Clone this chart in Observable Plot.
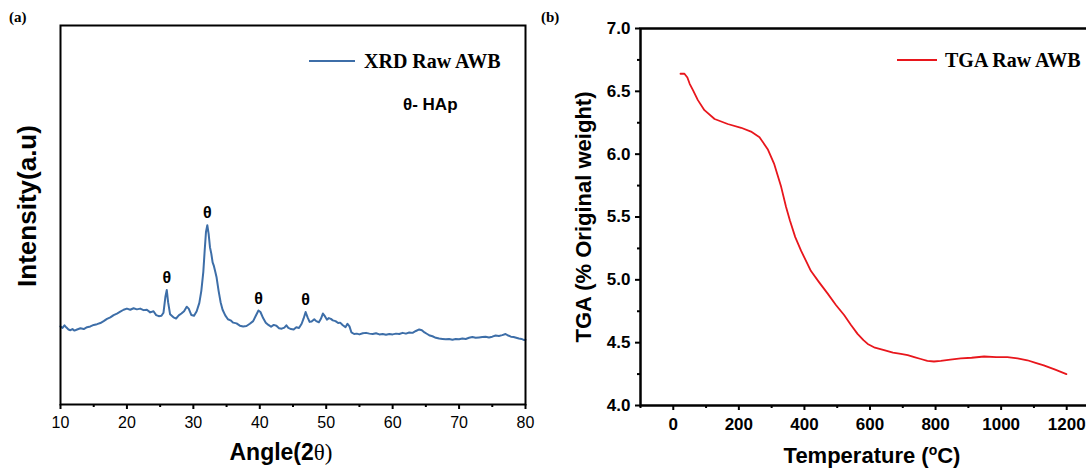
<!DOCTYPE html>
<html><head><meta charset="utf-8">
<script src="https://cdn.jsdelivr.net/npm/d3@7"></script>
<script src="https://cdn.jsdelivr.net/npm/@observablehq/plot@0.6"></script>
<style>
html,body{margin:0;padding:0;background:#fff;}
#wrap{position:relative;width:1086px;height:469px;overflow:hidden;background:#fff;}
.abs{position:absolute;white-space:nowrap;}
.pa{position:absolute;top:0;}
</style></head><body><div id="wrap"></div>
<script>
// ---- Panel (a): XRD data ----
const xrdAngle = [10.0,10.3,10.6,10.9,11.2,11.5,11.8,12.1,12.5,13.0,13.5,14.0,14.5,15.0,15.5,16.0,16.5,17.0,17.5,18.0,18.5,19.0,19.5,20.0,20.5,21.0,21.5,22.0,22.5,23.0,23.5,24.0,24.4,24.8,25.2,25.5,25.8,26.0,26.2,26.5,27.0,27.4,27.8,28.2,28.6,29.0,29.3,29.7,30.1,30.5,30.9,31.2,31.5,31.7,31.9,32.1,32.3,32.5,32.7,32.9,33.1,33.3,33.5,33.8,34.1,34.4,34.8,35.2,35.6,36.0,36.5,37.0,37.5,38.0,38.5,39.0,39.4,39.8,40.1,40.5,40.9,41.3,41.7,42.1,42.5,42.9,43.3,43.7,44.0,44.3,44.7,45.1,45.5,45.9,46.3,46.6,46.9,47.2,47.5,47.8,48.2,48.5,48.9,49.2,49.5,49.8,50.1,50.4,50.7,51.0,51.4,51.8,52.1,52.5,52.9,53.2,53.5,53.8,54.2,54.6,55.0,55.5,56.0,56.5,57.0,57.5,58.0,58.5,59.0,59.5,60.0,60.5,61.0,61.5,62.0,62.5,63.0,63.5,64.0,64.4,64.8,65.2,65.6,66.0,66.5,67.0,67.5,68.0,68.5,69.0,69.5,70.0,70.5,71.0,71.5,72.0,72.5,73.0,73.5,74.0,74.5,75.0,75.5,76.0,76.5,77.0,77.4,77.8,78.2,78.6,79.0,79.4,79.8,80.0];
const xrdIntensity = [20.6,20.2,20.9,20.3,19.8,19.6,19.9,19.5,19.8,20.1,19.9,20.4,20.6,21.0,21.2,21.5,22.0,22.6,23.0,23.6,24.0,24.5,25.0,25.3,25.0,25.4,25.1,25.3,24.9,25.0,24.3,24.6,23.6,23.3,23.4,24.2,28.5,30.2,27.0,23.8,23.0,22.7,23.5,24.0,24.6,25.8,25.3,23.6,23.4,24.6,26.8,30.0,35.0,40.5,45.5,47.3,45.0,41.5,39.8,37.5,36.5,35.0,33.5,30.0,27.0,25.0,23.5,22.5,22.2,21.6,21.4,20.8,20.6,20.7,21.3,22.0,23.4,24.8,24.4,22.8,21.6,21.0,20.5,21.0,20.8,20.1,20.0,20.3,20.9,20.2,19.9,19.8,20.4,20.2,21.3,22.7,24.4,23.0,21.8,21.9,22.5,22.0,21.7,22.6,24.0,23.3,22.4,22.8,22.6,22.2,22.0,21.5,21.6,20.9,20.4,21.3,20.6,19.0,18.6,18.7,18.5,18.8,18.9,18.7,18.6,18.8,18.5,18.6,18.4,18.6,18.5,18.7,18.6,18.9,18.7,19.0,18.9,19.4,19.8,19.6,19.0,18.6,18.2,18.0,17.6,17.4,17.3,17.2,17.3,17.1,17.3,17.2,17.4,17.3,17.6,17.8,17.6,17.7,17.8,17.9,17.7,17.9,18.2,18.1,18.3,18.6,18.2,17.9,17.8,17.6,17.4,17.3,17.0,17.1];
const peakAngle = [26.0, 32.1, 39.8, 46.9];
const peakIntensity = [30.2, 47.3, 24.8, 24.4];
const xrdMajorTicks = [10,20,30,40,50,60,70,80];
const xrdMinorTicks = [15,25,35,45,55,65,75];

// ---- Panel (b): TGA data ----
const tgaTemp = [22,34,43,50,60,75,95,126,166,207,237,263,288,308,329,344,356,372,390,420,445,471,496,521,542,562,580,593,615,643,670,694,715,735,755,775,795,816,845,877,910,948,985,1019,1050,1080,1105,1130,1165,1199];
const tgaWeight = [6.64,6.64,6.61,6.56,6.51,6.43,6.35,6.28,6.24,6.21,6.18,6.135,6.04,5.92,5.74,5.58,5.47,5.34,5.23,5.07,4.98,4.89,4.80,4.72,4.64,4.57,4.52,4.49,4.46,4.44,4.42,4.41,4.40,4.385,4.37,4.355,4.35,4.355,4.365,4.375,4.38,4.39,4.385,4.385,4.375,4.36,4.34,4.32,4.285,4.25];
const tgaMajorX = [0,200,400,600,800,1000,1200];
const tgaMinorX = [-100,100,300,500,700,900,1100,1300];
const tgaMajorY = [4.0,4.5,5.0,5.5,6.0,6.5,7.0];
const tgaMinorY = [4.25,4.75,5.25,5.75,6.25,6.75];

const xrdColor = "#3d6ea8";
const tgaColor = "#e8161c";
const sans = "'Liberation Sans', Arial, sans-serif";
const serif = "'Liberation Serif', 'Times New Roman', serif";

const xrd = xrdAngle.map((a, i) => ({angle: a, intensity: xrdIntensity[i]}));
const peaks = peakAngle.map((a, i) => ({angle: a, intensity: peakIntensity[i]}));
const tga = tgaTemp.map((t, i) => ({temp: t, weight: tgaWeight[i]}));

const wrap = document.getElementById("wrap");

const plotA = Plot.plot({
  width: 540, height: 469,
  marginLeft: 60, marginRight: 15, marginTop: 25, marginBottom: 65,
  style: {fontFamily: sans, background: "white", color: "black"},
  x: {domain: [10, 80]},
  y: {domain: [0, 100], axis: null},
  marks: [
    Plot.line(xrd, {x: "angle", y: "intensity", stroke: xrdColor, strokeWidth: 2}),
    Plot.text(peaks, {x: "angle", y: "intensity", text: () => "θ", dy: -12, fontSize: 16, fontWeight: "bold", fill: "black"}),
    Plot.axisX({ticks: xrdMajorTicks, tickSize: 5, tickPadding: 7, strokeWidth: 2, fontSize: 16, label: null, tickFormat: d => String(d)}),
    Plot.axisX({ticks: xrdMinorTicks, tickSize: 3, strokeWidth: 2, label: null, tickFormat: () => ""}),
    Plot.frame({stroke: "black", strokeWidth: 2}),
    Plot.text(["Intensity(a.u)"], {frameAnchor: "left", textAnchor: "middle", dx: -33, dy: -9, rotate: -90, lineAnchor: "middle", fontSize: 26, fontWeight: "bold", fill: "black"}),
    Plot.text(["Angle(2θ)"], {frameAnchor: "bottom", dx: -12, dy: 48, lineAnchor: "middle", fontSize: 23, fontWeight: "bold", fill: "black"})
  ]
});
plotA.classList.add("pa");
plotA.style.left = "0px";
wrap.appendChild(plotA);

const plotB = Plot.plot({
  width: 580, height: 469,
  marginLeft: 100, marginRight: 21, marginTop: 28, marginBottom: 64,
  style: {fontFamily: sans, background: "white", color: "black"},
  x: {domain: [-100, 1300]},
  y: {domain: [4, 7]},
  marks: [
    Plot.line(tga, {x: "temp", y: "weight", stroke: tgaColor, strokeWidth: 1.8}),
    Plot.axisX({ticks: tgaMajorX, tickSize: 5, tickPadding: 7, strokeWidth: 2, fontSize: 17, fontWeight: "bold", label: null, tickFormat: d => String(d)}),
    Plot.axisX({ticks: tgaMinorX, tickSize: 3, strokeWidth: 2, label: null, tickFormat: () => ""}),
    Plot.axisY({ticks: tgaMajorY, tickSize: 5, tickPadding: 5, strokeWidth: 2, fontSize: 17, fontWeight: "bold", label: null, tickFormat: d => d.toFixed(1)}),
    Plot.axisY({ticks: tgaMinorY, tickSize: 3, strokeWidth: 2, label: null, tickFormat: () => ""}),
    Plot.frame({stroke: "black", strokeWidth: 2.5}),
    Plot.text(["TGA (% Original weight)"], {frameAnchor: "left", textAnchor: "middle", dx: -57, rotate: -90, lineAnchor: "middle", fontSize: 22, fontWeight: "bold", fill: "black"}),
    Plot.text(["Temperature (oC)"], {frameAnchor: "bottom", dx: 2, dy: 50, lineAnchor: "middle", fontSize: 22, fontWeight: "bold", fill: "black"})
  ]
});
plotB.classList.add("pa");
plotB.style.left = "540px";
wrap.appendChild(plotB);

// Mixed-font axis titles
d3.select(plotA).selectAll("text").filter(function() { return this.textContent === "Angle(2θ)"; })
  .each(function() {
    const t = d3.select(this); t.text(null);
    t.append("tspan").text("Angle(2");
    t.append("tspan").attr("font-family", serif).attr("font-weight", "normal").text("θ)");
  });
d3.select(plotB).selectAll("text").filter(function() { return this.textContent === "Temperature (oC)"; })
  .each(function() {
    const t = d3.select(this); t.text(null);
    t.append("tspan").text("Temperature (");
    t.append("tspan").attr("font-size", "14px").attr("dy", "-8").text("o");
    t.append("tspan").attr("dy", "8").text("C)");
  });

// Legends and panel tags
function addDiv(html, style) {
  const d = document.createElement("div");
  d.className = "abs";
  d.setAttribute("style", style);
  d.innerHTML = html;
  wrap.appendChild(d);
}
addDiv("(a)", `left:9px;top:8px;font:bold 15px ${serif};line-height:18px;`);
addDiv("(b)", `left:541px;top:8px;font:bold 15px ${serif};line-height:18px;`);
addDiv("", `left:309px;top:60px;width:46px;height:2px;background:${xrdColor};`);
addDiv("XRD Raw AWB", `left:364px;top:49px;font:bold 20px ${serif};line-height:24px;`);
addDiv("θ- HAp", `left:403px;top:95px;font:bold 17px ${sans};line-height:20px;`);
addDiv("", `left:897px;top:59px;width:40px;height:2px;background:${tgaColor};`);
addDiv("TGA Raw AWB", `left:945px;top:48px;font:bold 20px ${serif};line-height:24px;`);
</script></body></html>
